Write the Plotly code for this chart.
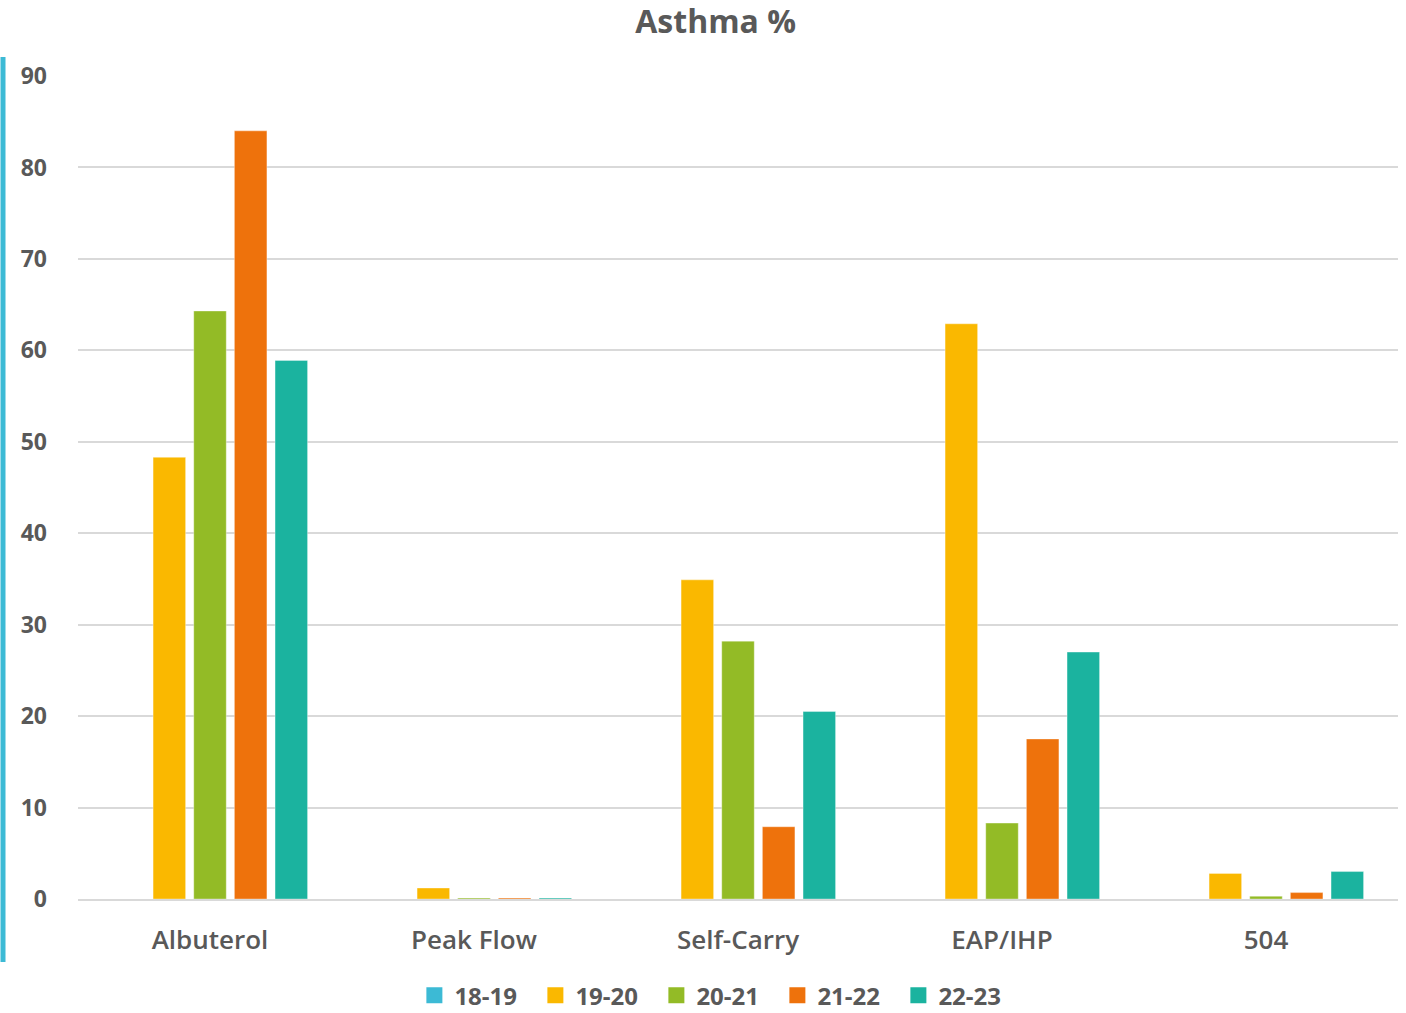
import plotly.graph_objects as go

categories = ["Albuterol", "Peak Flow", "Self-Carry", "EAP/IHP", "504"]
series_names = ["18-19", "19-20", "20-21", "21-22", "22-23"]
v_18_19 = [0, 0, 0, 0, 0]
v_19_20 = [48.3, 1.2, 34.9, 62.9, 2.8]
v_20_21 = [64.3, 0.1, 28.2, 8.3, 0.3]
v_21_22 = [84.0, 0.1, 7.9, 17.5, 0.7]
v_22_23 = [58.9, 0.1, 20.5, 27.0, 3.0]
y_ticks = [0, 10, 20, 30, 40, 50, 60, 70, 80, 90]

colors = ["#3CBAD5", "#FAB800", "#93BB26", "#EE720C", "#1BB39F"]
values = [v_18_19, v_19_20, v_20_21, v_21_22, v_22_23]

W, H = 1406, 1013
ml, mr, mt, mb = 78, 8, 76, 114

fig = go.Figure()
for name, vals, c in zip(series_names, values, colors):
    fig.add_trace(go.Bar(
        x=categories, y=vals, name=name, showlegend=False,
        marker=dict(color=c, line=dict(color="rgba(255,255,255,0.35)", width=1)),
    ))
for name, c in zip(series_names, colors):
    fig.add_trace(go.Scatter(
        x=[categories[0]], y=[None], name=name, mode="markers",
        marker=dict(symbol="square", color=c, size=17),
    ))

font_family = "Open Sans, Lato, sans-serif"
txt = "#595959"

pw = W - ml - mr
ph = H - mt - mb
fig.add_shape(type="line", xref="paper", yref="paper",
              x0=(3 - ml) / pw, x1=(3 - ml) / pw,
              y0=(H - mb - 57) / ph, y1=(H - mb - 962) / ph,
              line=dict(color="#3CBAD5", width=5))

fig.update_layout(
    width=W, height=H,
    margin=dict(l=ml, r=mr, t=mt, b=mb, autoexpand=False),
    paper_bgcolor="white", plot_bgcolor="white",
    barmode="group", bargap=0.23, bargroupgap=0.2,
    title=dict(text="<b>Asthma %</b>", x=0.509, xanchor="center",
               y=1 - 22 / H, yanchor="middle", yref="container",
               font=dict(family=font_family, size=32, color=txt)),
    font=dict(family=font_family, color=txt),
    legend=dict(orientation="h", x=0.484, xanchor="center", y=-0.09, yanchor="top",
                font=dict(size=24, color=txt, weight="bold"),
                tracegroupgap=0, itemsizing="trace",
                entrywidth=76, entrywidthmode="pixels"),
    xaxis=dict(showgrid=False, showline=True, linecolor="#d9d9d9", linewidth=2,
               tickfont=dict(size=26, color=txt, weight=600), ticks="",
               ticklabelstandoff=17, automargin=False),
    yaxis=dict(range=[0, 90], tickvals=y_ticks, showgrid=True, gridcolor="#d9d9d9",
               gridwidth=1.5, zeroline=False, showline=False,
               tickfont=dict(size=23, color=txt, weight="bold"), ticks="",
               ticklabelstandoff=30, automargin=False),
)

fig.write_html("out.html", post_script="document.body.style.margin='0';",
               config={"displayModeBar": False})
